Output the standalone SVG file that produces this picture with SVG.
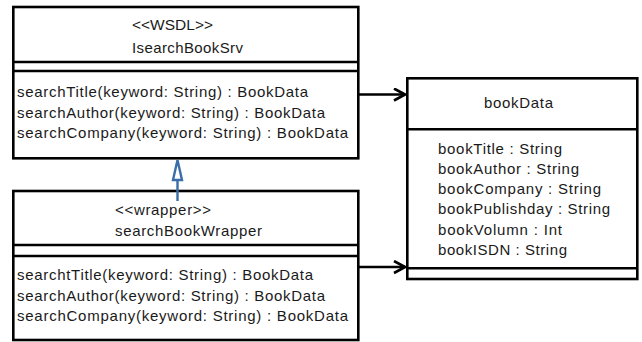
<svg xmlns="http://www.w3.org/2000/svg" width="642" height="342" viewBox="0 0 642 342">
  <style>
    .box { fill: #ffffff; stroke: #000000; stroke-width: 2.6; }
    .sep { stroke: #000000; stroke-width: 2.6; }
    .t { font-family: "Liberation Sans", Arial, sans-serif; font-size: 15px; fill: #1a1a1a; }
    .assoc { stroke: #000000; stroke-width: 2.6; fill: none; }
    .real { stroke: #3a6ea8; stroke-width: 2.4; fill: #ffffff; }
  </style>
  <defs>
    <marker id="openArrow" markerWidth="14" markerHeight="16" refX="12" refY="7" orient="auto" markerUnits="userSpaceOnUse">
      <path d="M1,1 L12,7 L1,13" fill="none" stroke="#000000" stroke-width="2.6"/>
    </marker>
  </defs>

  <!-- interface class -->
  <g id="IsearchBookSrv">
    <rect class="box" x="13.3" y="7" width="345" height="151.3"/>
    <line class="sep" x1="13.3" y1="62" x2="358.3" y2="62"/>
    <line class="sep" x1="13.3" y1="71" x2="358.3" y2="71"/>
    <text class="t" x="132" y="30" textLength="81" lengthAdjust="spacingAndGlyphs">&lt;&lt;WSDL&gt;&gt;</text>
    <text class="t" x="132" y="53" textLength="111" lengthAdjust="spacing">IsearchBookSrv</text>
    <text class="t" x="17" y="97" textLength="291" lengthAdjust="spacing">searchTitle(keyword: String) : BookData</text>
    <text class="t" x="17" y="117.5" textLength="308" lengthAdjust="spacing">searchAuthor(keyword: String) : BookData</text>
    <text class="t" x="17" y="138" textLength="331" lengthAdjust="spacing">searchCompany(keyword: String) : BookData</text>
  </g>

  <!-- wrapper class -->
  <g id="searchBookWrapper">
    <rect class="box" x="13.3" y="191" width="345" height="149"/>
    <line class="sep" x1="13.3" y1="245" x2="358.3" y2="245"/>
    <line class="sep" x1="13.3" y1="256" x2="358.3" y2="256"/>
    <text class="t" x="115" y="215" textLength="96" lengthAdjust="spacing">&lt;&lt;wrapper&gt;&gt;</text>
    <text class="t" x="115" y="236" textLength="147" lengthAdjust="spacing">searchBookWrapper</text>
    <text class="t" x="17" y="280" textLength="296" lengthAdjust="spacing">searchtTitle(keyword: String) : BookData</text>
    <text class="t" x="17" y="300.5" textLength="308" lengthAdjust="spacing">searchAuthor(keyword: String) : BookData</text>
    <text class="t" x="17" y="321" textLength="331" lengthAdjust="spacing">searchCompany(keyword: String) : BookData</text>
  </g>

  <!-- data class -->
  <g id="bookData">
    <rect class="box" x="407.3" y="78.3" width="230" height="200.7"/>
    <line class="sep" x1="407.3" y1="129.3" x2="637.3" y2="129.3"/>
    <line class="sep" x1="407.3" y1="268.3" x2="637.3" y2="268.3"/>
    <text class="t" x="484" y="108" textLength="69" lengthAdjust="spacing">bookData</text>
    <text class="t" x="438" y="153.5" textLength="124" lengthAdjust="spacing">bookTitle : String</text>
    <text class="t" x="438" y="173.8" textLength="141" lengthAdjust="spacing">bookAuthor : String</text>
    <text class="t" x="438" y="194" textLength="163" lengthAdjust="spacing">bookCompany : String</text>
    <text class="t" x="438" y="214.3" textLength="172" lengthAdjust="spacing">bookPublishday : String</text>
    <text class="t" x="438" y="234.6" textLength="124" lengthAdjust="spacing">bookVolumn : Int</text>
    <text class="t" x="438" y="255" textLength="129" lengthAdjust="spacing">bookISDN : String</text>
  </g>

  <!-- connectors -->
  <g id="connectors">
    <line class="assoc" x1="358.3" y1="94.5" x2="405" y2="94.5" marker-end="url(#openArrow)"/>
    <line class="assoc" x1="358.3" y1="267" x2="405" y2="267" marker-end="url(#openArrow)"/>
    <line class="real" x1="177.5" y1="201" x2="177.5" y2="180"/>
    <path class="real" d="M177.5,160 L182,180 L173,180 Z"/>
  </g>
</svg>
